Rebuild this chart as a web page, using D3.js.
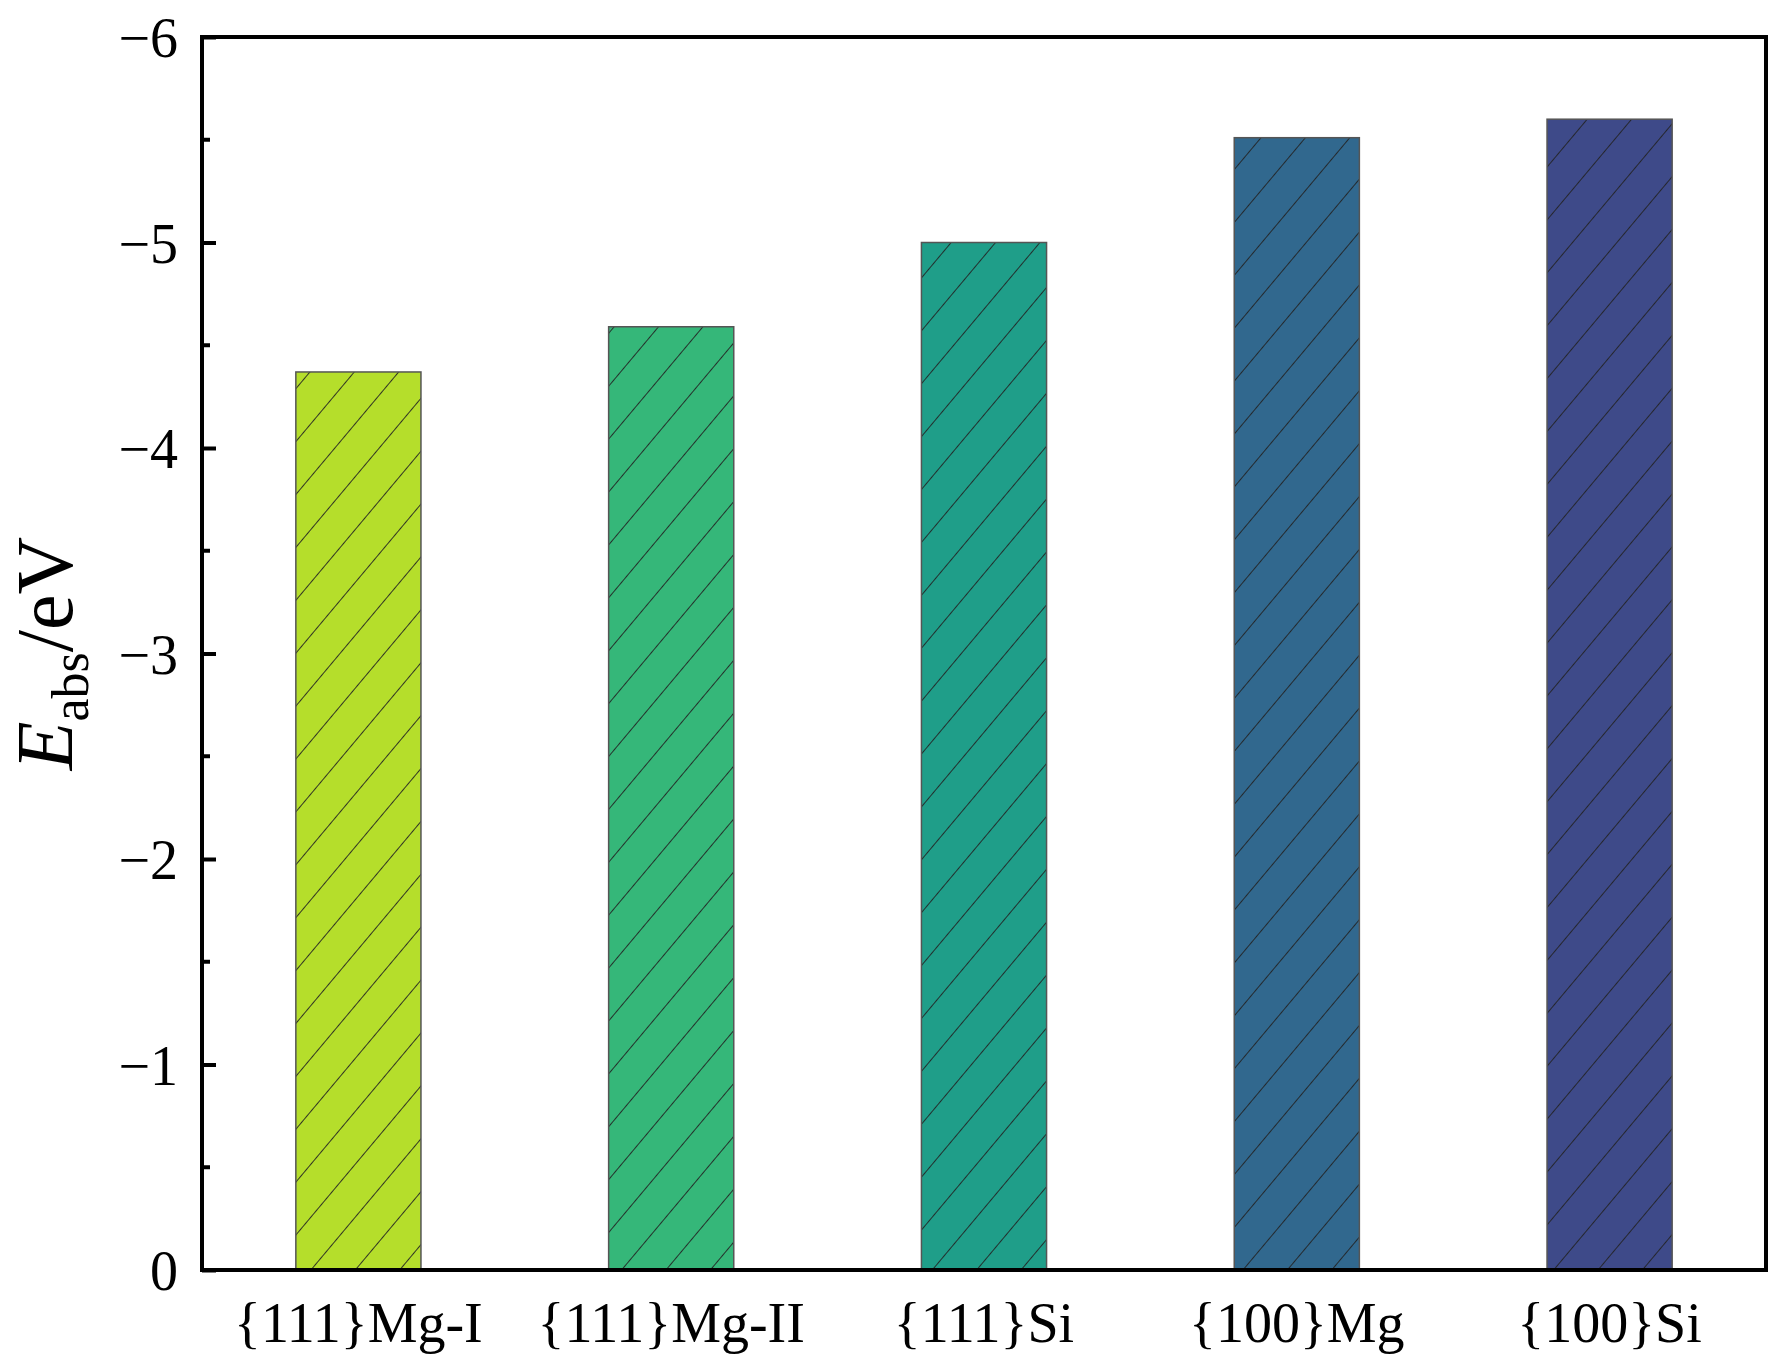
<!DOCTYPE html>
<html><head><meta charset="utf-8">
<script src="https://cdn.jsdelivr.net/npm/d3@7"></script>
<style>body{margin:0;background:#fff}</style></head>
<body><svg id="c" width="1777" height="1364"></svg>
<script>
const categories=["{111}Mg-I","{111}Mg-II","{111}Si","{100}Mg","{100}Si"];
const values=[-4.37,-4.59,-5.00,-5.51,-5.60];
const colors=["#b5de2b","#35b779","#1f9e89","#31688e","#3e4a89"];
const yTicks=[0,-1,-2,-3,-4,-5,-6];
const m={l:202,t:37,r:11,b:94},W=1777,H=1364;
const svg=d3.select("#c");
const x=d3.scaleBand().domain(categories).range([m.l,W-m.r]).paddingInner(0.6).paddingOuter(0.3);
const y=d3.scaleLinear().domain([0,-6]).range([H-m.b,m.t]);
const defs=svg.append("defs");
colors.forEach((c,i)=>{
  const p=defs.append("pattern").attr("id","h"+i).attr("patternUnits","userSpaceOnUse").attr("width",34).attr("height",34).attr("patternTransform","rotate(40)");
  p.append("rect").attr("width",34).attr("height",34).attr("fill",c);
  p.append("line").attr("x1",0).attr("y1",0).attr("x2",0).attr("y2",34).attr("stroke","#222").attr("stroke-width",1.8);
});
svg.selectAll(".bar").data(values).join("rect")
 .attr("x",(d,i)=>x(categories[i])).attr("width",x.bandwidth())
 .attr("y",d=>y(d)).attr("height",d=>y(0)-y(d))
 .attr("fill",(d,i)=>"url(#h"+i+")").attr("stroke","#555").attr("stroke-width",1.5);
svg.append("rect").attr("x",m.l).attr("y",m.t).attr("width",W-m.r-m.l).attr("height",H-m.b-m.t).attr("fill","none").attr("stroke","#000").attr("stroke-width",4);
const font="Liberation Serif, Times New Roman, serif";
const ya=svg.append("g").attr("transform",`translate(${m.l},0)`)
 .call(d3.axisRight(y).tickValues(yTicks).tickSize(14).tickFormat(d=>d===0?"0":"\u2212"+Math.abs(d)));
ya.select(".domain").remove();
ya.selectAll("line").attr("stroke-width",4);
ya.selectAll("text").attr("x",-24).attr("dy","0.35em").attr("text-anchor","end").attr("font-family",font).attr("font-size",56).attr("fill","#000");
const minor=[-0.5,-1.5,-2.5,-3.5,-4.5,-5.5];
svg.selectAll(".mt").data(minor).join("line").attr("x1",m.l).attr("x2",m.l+8).attr("y1",d=>y(d)).attr("y2",d=>y(d)).attr("stroke","#000").attr("stroke-width",4);
const xa=svg.append("g").attr("transform",`translate(0,${H-m.b})`).call(d3.axisBottom(x).tickSize(0));
xa.select(".domain").remove();
xa.selectAll("text").attr("dy",0).attr("y",72).attr("font-family",font).attr("font-size",56).attr("fill","#000");
const t=svg.append("text").attr("transform",`translate(72,${(m.t+H-m.b)/2}) rotate(-90)`).attr("text-anchor","middle").attr("font-family",font).attr("font-size",80);
t.append("tspan").attr("font-style","italic").text("E");
t.append("tspan").attr("font-size",52).attr("dy",16).text("abs");
t.append("tspan").attr("dy",-16).text("/eV");
</script></body></html>
